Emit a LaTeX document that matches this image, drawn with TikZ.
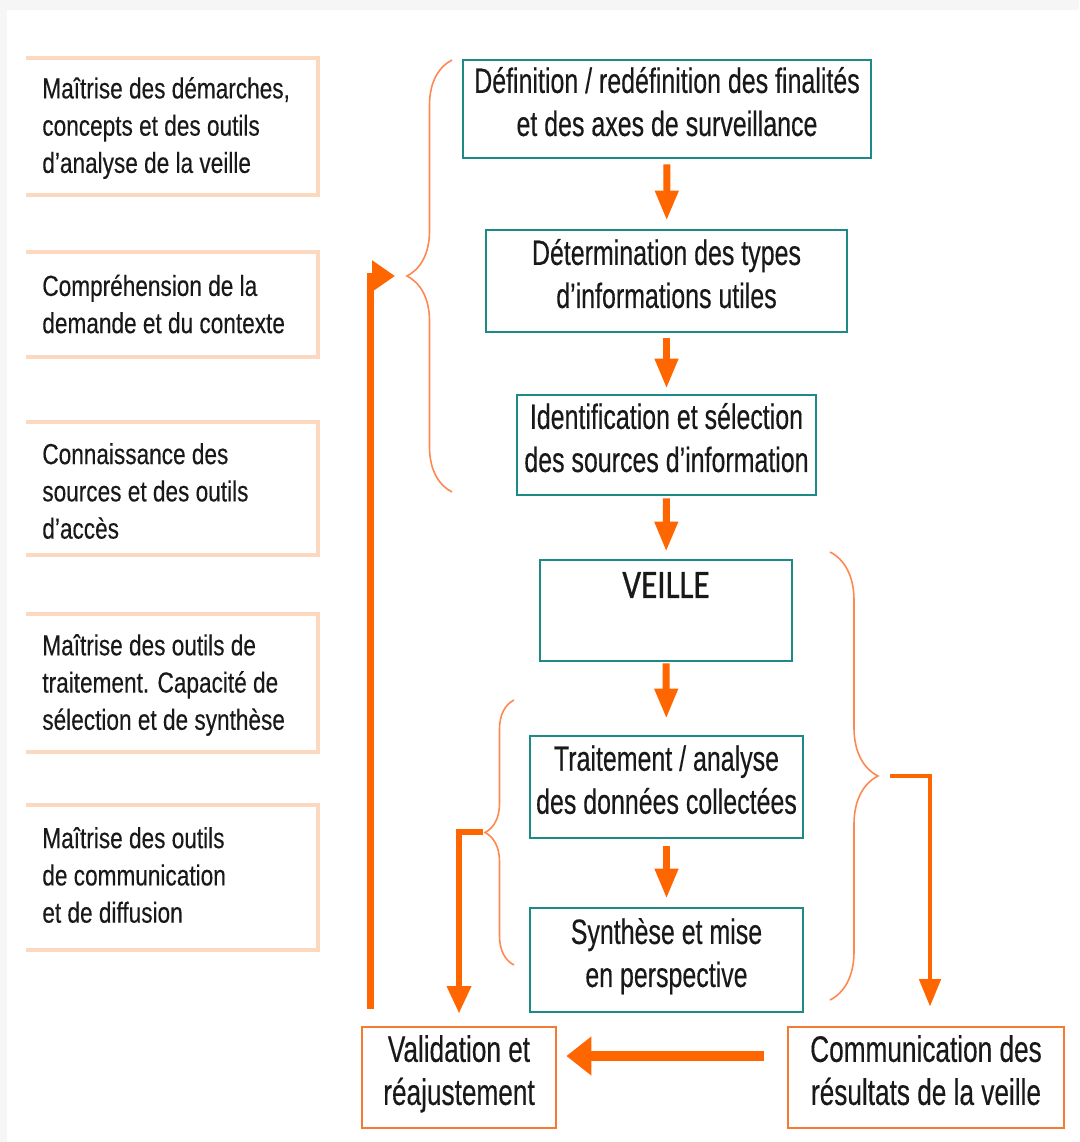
\documentclass[tikz,border=0pt]{standalone}
\usepackage{fontspec}
\setmainfont{Liberation Sans}[FakeStretch=0.71,FakeBold=0.3]
\newfontfamily\sidefont{Liberation Sans}[FakeStretch=0.78,FakeBold=0.3]
\newfontfamily\veillefont{Carlito}[FakeStretch=0.82,FakeBold=0.6]
\usetikzlibrary{arrows.meta,decorations.pathreplacing,calc}

\definecolor{tealline}{RGB}{30,138,136}
\definecolor{flow}{RGB}{255,102,0}
\definecolor{bracecol}{RGB}{255,135,80}
\definecolor{peach}{RGB}{252,216,190}
\definecolor{outbox}{RGB}{245,122,50}
\definecolor{margin}{RGB}{246,246,246}
\definecolor{ink}{RGB}{25,25,25}

\tikzset{
  stepbox/.style={draw=tealline, line width=1.6pt, fill=white, align=center,
    text=ink, inner sep=0pt, text depth=0.3cm, font=\fontsize{20}{24.5}\selectfont},
  endbox/.style={draw=outbox, line width=1.6pt, fill=white, align=center,
    text=ink, inner sep=0pt, text depth=0.3cm, font=\fontsize{21}{24.5}\selectfont},
  skill/.style={anchor=west, align=left, text=ink, inner sep=0pt,
    font=\sidefont\fontsize{16.5}{21.2}\selectfont},
  skillframe/.style={draw=peach, line width=1.8pt},
  curly/.style={draw=bracecol, line width=0.9pt, decorate,
    decoration={brace, amplitude=#1}},
  flowarrow/.style={draw=flow, line width=4pt,
    -{Triangle[width=0.44cm,length=0.6cm]}},
}

\begin{document}
\begin{tikzpicture}[x=0.02cm,y=-0.02cm]
  % Fond et marges grises
  \fill[margin] (0,0) rectangle (1079,1142);
  \fill[white] (7,10) rectangle (1079,1142);
  \useasboundingbox (0,0) rectangle (1079,1142);

  % Colonne de gauche : compétences (cadres ouverts à gauche)
  \foreach \ya/\yb in {58/195, 252/357, 422/555, 614/752, 805/950}
    \draw[skillframe] (26,\ya) -| (318,\yb) -- (26,\yb);

  \node[skill] (sk1) at (42,128) {Maîtrise des démarches,\\concepts et des outils\\d’analyse de la veille};
  \node[skill] (sk2) at (42,304) {Compréhension de la\\demande et du contexte};
  \node[skill] (sk3) at (42,491) {Connaissance des\\sources et des outils\\d’accès};
  \node[skill] (sk4) at (42,685) {Maîtrise des outils de\\traitement. Capacité de\\sélection et de synthèse};
  \node[skill] (sk5) at (42,875) {Maîtrise des outils\\de communication\\et de diffusion};

  % Colonne centrale : étapes du processus
  \def\cx{666.5}
  \node[stepbox, minimum width=8.16cm, minimum height=1.96cm] (def) at (667,109)
    {Définition / redéfinition des finalités\\et des axes de surveillance};
  \node[stepbox, minimum width=7.22cm, minimum height=2.04cm] (types) at (\cx,281)
    {Détermination des types\\d’informations utiles};
  \node[stepbox, minimum width=5.98cm, minimum height=2.0cm] (sources) at (\cx,445)
    {Identification et sélection\\des sources d’information};
  \node[draw=tealline, line width=1.6pt, fill=white, minimum width=5.04cm,
    minimum height=2.02cm] (veille) at (666,610.5) {};
  \node[text=ink, inner sep=0pt, font=\veillefont\fontsize{23}{26}\selectfont]
    (veilletxt) at (666,585) {VEILLE};
  \node[stepbox, minimum width=5.46cm, minimum height=2.04cm] (trait) at (\cx,787)
    {Traitement / analyse\\des données collectées};
  \node[stepbox, minimum width=5.46cm, minimum height=2.08cm] (synth) at (\cx,960)
    {Synthèse et mise\\en perspective};

  % Boîtes du bas
  \node[endbox, minimum width=3.88cm, minimum height=2.02cm] (valid) at (459,1077.5)
    {Validation et\\réajustement};
  \node[endbox, minimum width=5.52cm, minimum height=2.02cm] (comm) at (926,1077.5)
    {Communication des\\résultats de la veille};

  % Flèches entre les étapes
  \draw[flowarrow, shorten <=0.1cm, shorten >=0.16cm] (def) -- (types);
  \draw[flowarrow, shorten <=0.1cm, shorten >=0.1cm] (types) -- (sources);
  \draw[flowarrow, shorten <=0.04cm, shorten >=0.14cm] (sources) -- (veille);
  \draw[flowarrow, shorten <=0.02cm, shorten >=0.32cm] (veille) -- (trait);
  \draw[flowarrow, shorten <=0.14cm, shorten >=0.16cm] (trait) -- (synth);

  % Accolades
  \draw[curly=0.9cm] (452,492) -- (452,60);
  \draw[curly=0.58cm] (514,965) -- (514,700);
  \draw[curly=0.96cm] (830,552) -- (830,1000);
  \coordinate (toptip) at (407,276);
  \coordinate (midtip) at (486,832);
  \coordinate (righttip) at (878,776);
  \coordinate (backrow) at (0,1056);

  % Boucle de retour vers la définition
  \draw[draw=flow, line width=3.6pt, shorten <=0.34cm,
    -{Triangle[width=0.6cm,length=0.46cm]}]
    ([xshift=0.2cm]valid.north west) |- ([xshift=-0.24cm]toptip);

  % Traitement / synthèse vers validation
  \draw[draw=flow, line width=3.6pt, shorten <=0.06cm, shorten >=0.24cm,
    -{Triangle[width=0.46cm,length=0.55cm]}]
    (midtip) -| (valid);

  % Veille vers communication
  \draw[draw=flow, line width=2.6pt, shorten <=0.24cm, shorten >=0.38cm,
    -{Triangle[width=0.42cm,length=0.55cm]}]
    (righttip) -| ([xshift=0.08cm]comm.north);

  % Communication vers validation
  \draw[draw=flow, line width=6pt, shorten <=0.46cm, shorten >=0.18cm,
    -{Triangle[width=0.75cm,length=0.5cm]}]
    (comm.west |- backrow) -- (valid.east |- backrow);
\end{tikzpicture}
\end{document}
